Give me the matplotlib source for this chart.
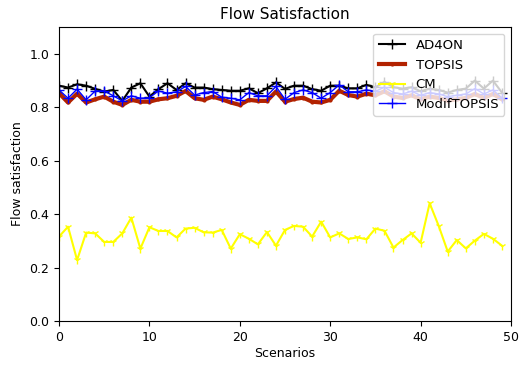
import numpy as np
import matplotlib
matplotlib.use("Agg")
import matplotlib.pyplot as plt

# values, scenarios 0..49
scenarios = np.arange(50)

ad4on = [0.881, 0.874, 0.886, 0.881, 0.869, 0.859, 0.865, 0.824, 0.874, 0.890,
         0.840, 0.868, 0.890, 0.865, 0.890, 0.874, 0.874, 0.868, 0.865, 0.862,
         0.862, 0.871, 0.853, 0.871, 0.893, 0.869, 0.881, 0.881, 0.868, 0.862,
         0.881, 0.881, 0.871, 0.871, 0.884, 0.875, 0.895, 0.875, 0.870, 0.875,
         0.860, 0.870, 0.865, 0.855, 0.865, 0.870, 0.900, 0.870, 0.900, 0.855]

topsis = [0.853, 0.818, 0.851, 0.818, 0.830, 0.840, 0.821, 0.809, 0.828, 0.821,
          0.821, 0.830, 0.834, 0.843, 0.861, 0.834, 0.828, 0.840, 0.830, 0.818,
          0.809, 0.828, 0.824, 0.824, 0.859, 0.821, 0.831, 0.836, 0.821, 0.818,
          0.828, 0.862, 0.846, 0.840, 0.851, 0.845, 0.860, 0.840, 0.835, 0.845,
          0.830, 0.840, 0.835, 0.825, 0.830, 0.835, 0.850, 0.835, 0.850, 0.830]

cm = [0.316, 0.353, 0.228, 0.331, 0.328, 0.296, 0.296, 0.328, 0.387, 0.271,
      0.351, 0.337, 0.337, 0.313, 0.346, 0.349, 0.332, 0.331, 0.341, 0.271,
      0.325, 0.308, 0.287, 0.333, 0.282, 0.341, 0.356, 0.353, 0.316, 0.372,
      0.313, 0.328, 0.307, 0.313, 0.306, 0.346, 0.338, 0.275, 0.303, 0.328,
      0.293, 0.441, 0.356, 0.260, 0.303, 0.272, 0.301, 0.326, 0.308, 0.282]

modif_topsis = [0.865, 0.834, 0.868, 0.828, 0.861, 0.861, 0.843, 0.824, 0.843, 0.834,
                0.836, 0.861, 0.853, 0.858, 0.878, 0.846, 0.855, 0.859, 0.838, 0.834,
                0.828, 0.855, 0.843, 0.843, 0.878, 0.830, 0.855, 0.865, 0.855, 0.834,
                0.855, 0.884, 0.858, 0.858, 0.865, 0.860, 0.875, 0.855, 0.850, 0.860,
                0.845, 0.855, 0.850, 0.840, 0.845, 0.850, 0.870, 0.850, 0.865, 0.835]

plt.rcParams["font.size"] = 9

fig = plt.figure(figsize=(5.19, 3.67), dpi=100)
ax = fig.add_axes([0.1137, 0.1253, 0.8709, 0.8007])

ax.plot(scenarios, ad4on, color="black", marker="+", markersize=7, lw=1.5, label="AD4ON")
ax.plot(scenarios, topsis, color="#b22200", marker=".", markersize=4, lw=3, label="TOPSIS")
ax.plot(scenarios, cm, color="#ffff00", marker="1", markersize=6, lw=1.5, label="CM")
ax.plot(scenarios, modif_topsis, color="#0000ff", marker="+", markersize=7, lw=1, label="ModifTOPSIS")

ax.set_xlim(0, 50)
ax.set_ylim(0, 1.1)
ax.set_yticks([0.0, 0.2, 0.4, 0.6, 0.8, 1.0])
ax.set_xlabel("Scenarios", labelpad=2)
ax.set_ylabel("Flow satisfaction")
ax.set_title("Flow Satisfaction", fontsize=11)
ax.legend(loc="upper right", fontsize=9.5)

plt.savefig("out.png", dpi=100)
